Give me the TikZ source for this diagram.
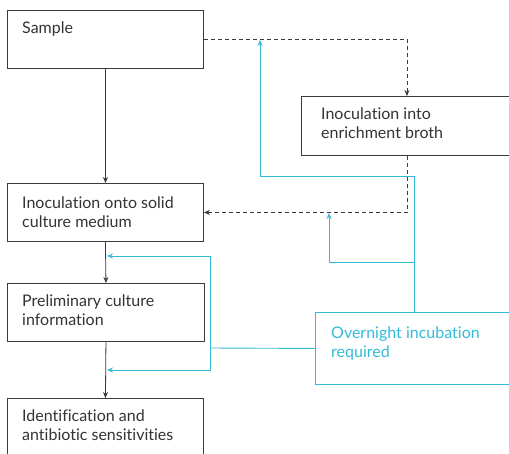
\documentclass[tikz,border=0pt]{standalone}
\usepackage{fontspec}
\setmainfont{Lato}[Ligatures={NoCommon,NoRare,NoContextual}]
\usetikzlibrary{arrows.meta,calc}
\definecolor{cyanline}{HTML}{33BBD6}
\definecolor{boxline}{HTML}{3A3A3A}
\definecolor{textgray}{HTML}{333333}
\tikzset{
  box/.style={draw=boxline, line width=0.9pt, anchor=north west, inner sep=0pt},
  cbox/.style={draw=cyanline, line width=0.9pt, anchor=north west, inner sep=0pt},
  lbl/.style={anchor=base west, align=left, inner sep=0pt, font=\fontsize{16}{19}\selectfont, text=textgray},
  clbl/.style={lbl, text=cyanline},
  blk/.style={draw=boxline, line width=0.8pt, -{Stealth[length=6pt,width=5pt]}},
  dsh/.style={blk, dash pattern=on 4pt off 3pt},
  cyn/.style={draw=cyanline, line width=0.9pt},
  cyna/.style={cyn, -{Stealth[length=6pt,width=5pt]}}
}
\begin{document}
\begin{tikzpicture}[x=1pt,y=-1pt]
\useasboundingbox (0,0) rectangle (509,453);
\begin{scope}
\clip (0,0) rectangle (509,453);
\node[box, minimum width=196pt, minimum height=58pt] (sample) at (7,10) {};
\node[box, minimum width=196pt, minimum height=58pt] (inoc) at (7,183) {};
\node[box, minimum width=197pt, minimum height=58pt] (prelim) at (7,283) {};
\node[box, minimum width=196pt, minimum height=60pt] (ident) at (7,398) {};
\node[box, minimum width=211pt, minimum height=59pt] (enrich) at (301,96) {};
\node[cbox, minimum width=197pt, minimum height=72pt] (night) at (315,312) {};
\end{scope}

% anchor base = baseline of last line
\node[lbl] (tsample) at (22,33) {Sample};
\node[lbl] (tinoc) at (22,227) {Inoculation onto solid\\culture medium};
\node[lbl] (tprelim) at (22,325) {Preliminary culture\\information};
\node[lbl] (tident) at (22,440) {Identification and\\antibiotic sensitivities};
\node[lbl] (tenrich) at (321,138) {Inoculation into\\enrichment broth};
\node[clbl] (tnight) at (331,357) {Overnight incubation\\required};

% black solid arrows
\draw[blk] (sample.south) -- (inoc.north);
\draw[blk] (inoc.south) -- (prelim.north);
\draw[blk] (prelim.south) -- (ident.north);

% dashed arrows
\draw[dsh] (sample.east) -| (enrich.north);
\coordinate (dturn) at (enrich.south |- inoc.east);
\draw[dsh] (enrich.south) -- (dturn) -- (inoc.east);

% cyan connectors
\coordinate (c1) at (260,176);
\coordinate (c1top) at (260,40);
\draw[cyna] (night.north) |- (c1) -- (c1top);
\coordinate (br) at (night.north |- 0,262);
\coordinate (br2) at (329,262);
\coordinate (br2top) at (329,213);
\draw[cyna] (br) -- (br2) -- (br2top);
\coordinate (lj) at (210,348);
\coordinate (lup) at (210,256);
\coordinate (ldn) at (210,370);
\coordinate (aup) at (107,256);
\coordinate (adn) at (107,370);
\draw[cyn] (night.west) -- (lj);
\draw[cyna] (lj) -- (lup) -- (aup);
\draw[cyna] (lj) -- (ldn) -- (adn);
\end{tikzpicture}
\end{document}
